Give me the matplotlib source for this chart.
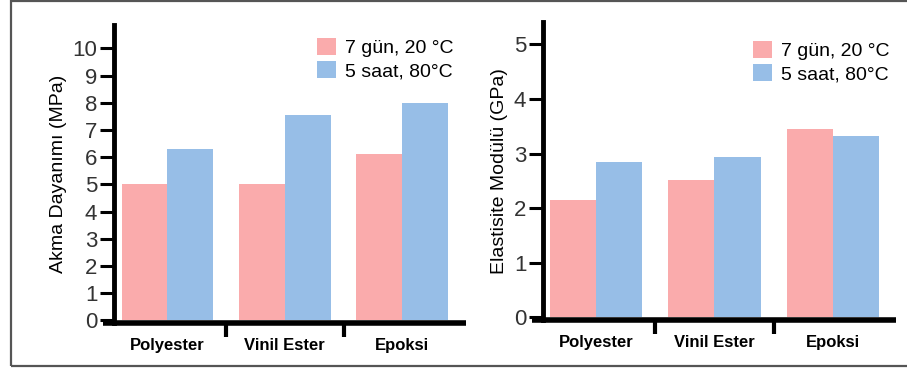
import matplotlib.pyplot as plt
import matplotlib.patches as mpatches
import numpy as np

# data
categories = ['Polyester', 'Vinil Ester', 'Epoksi']
series_labels = ['7 gün, 20 °C', '5 saat, 80°C']
akma_7gun = [5.0, 5.0, 6.1]
akma_5saat = [6.3, 7.55, 8.0]
modul_7gun = [2.15, 2.52, 3.45]
modul_5saat = [2.85, 2.94, 3.33]
akma_ticks = list(range(0, 11))
modul_ticks = list(range(0, 6))

pink = '#FAABAC'
blue = '#97BEE7'

plt.rcParams['font.family'] = ['Liberation Sans', 'DejaVu Sans']

fig = plt.figure(figsize=(9.07, 3.71), dpi=100)

# outer gray frame
fig.patches.append(mpatches.Rectangle((11 / 907, 5 / 371), 1.0, 365 / 371,
                                      transform=fig.transFigure, fill=False,
                                      edgecolor='#555555', linewidth=1.6,
                                      clip_on=False))


def draw_panel(ax, v1, v2, ticks, ylim, ylabel, xlim, leg_xy):
    x = np.arange(len(categories))
    w = 0.39
    ax.bar(x - w / 2, v1, w, color=pink, label=series_labels[0])
    ax.bar(x + w / 2, v2, w, color=blue, label=series_labels[1])

    ax.set_xlim(*xlim)
    ax.set_ylim(*ylim)
    for s in ['top', 'right']:
        ax.spines[s].set_visible(False)
    ax.spines['left'].set_linewidth(3.5)
    ax.spines['bottom'].set_linewidth(4)
    ax.spines['bottom'].set_capstyle('butt')

    # bottom spine reaches left beyond the y axis
    ax.plot([-0.032, 0.0], [0, 0], transform=ax.transAxes, color='black',
            lw=4, clip_on=False, solid_capstyle='butt')

    ax.set_yticks(ticks)
    ax.tick_params(axis='y', direction='out', length=10, width=2.2,
                   labelsize=16, pad=2, labelcolor='#333333')

    ax.set_xticks(x)
    ax.set_xticklabels(categories, fontsize=12, fontweight='bold')
    ax.tick_params(axis='x', length=0, pad=11)
    ax.set_xticks(x[:-1] + 0.5, minor=True)
    ax.tick_params(axis='x', which='minor', length=10, width=3, direction='out')

    ax.set_ylabel(ylabel, fontsize=14, labelpad=4)

    ax.legend(loc='upper left', bbox_to_anchor=leg_xy, frameon=False,
              fontsize=14, handlelength=0.95, handleheight=0.95,
              handletextpad=0.5, labelspacing=0.2, borderpad=0,
              borderaxespad=0)


ax1 = fig.add_axes([114 / 907, 48 / 371, 352 / 907, 298 / 371])
draw_panel(ax1, akma_7gun, akma_5saat, akma_ticks, (-0.1, 10.86),
           'Akma Dayanımı (MPa)', (-0.454, 2.542), (0.577, 0.955))

ax2 = fig.add_axes([543 / 907, 51 / 371, 353 / 907, 298 / 371])
draw_panel(ax2, modul_7gun, modul_5saat, modul_ticks, (-0.046, 5.41),
           'Elastisite Modülü (GPa)', (-0.449, 2.535), (0.595, 0.935))

fig.savefig('out.png', dpi=100)
